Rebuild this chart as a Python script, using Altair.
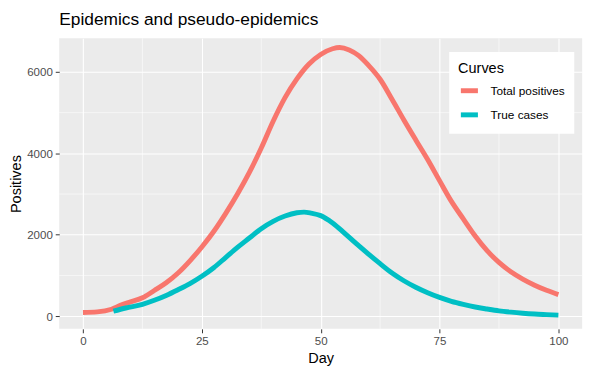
import altair as alt
import pandas as pd

# ---- data ----
total_days = [0, 3, 6, 8, 10, 12.5, 15, 17.5, 20, 22.5, 25, 27.5, 30, 32.5, 35, 37.5, 40, 42.5,
              45, 47.5, 50, 52.5, 54, 56, 58, 60, 62.5, 65, 67.5, 70, 72.5, 75, 77.5,
              80, 82.5, 85, 87.5, 90, 92.5, 95, 97.5, 100]
total_vals = [90, 105, 170, 270, 350, 450, 630, 820, 1060, 1360, 1700, 2080, 2520, 3000, 3530,
              4130, 4790, 5370, 5830, 6190, 6430, 6570, 6600, 6540, 6400, 6170, 5820,
              5330, 4820, 4330, 3850, 3330, 2820, 2390, 1970, 1610, 1320, 1090, 910, 760, 635,
              530]

true_days = [6.4, 9, 12.5, 15, 17.5, 20, 22.5, 25, 27.5, 30, 32.5, 35, 37.5, 40, 42.5, 45, 46.5,
             48, 50, 52.5, 55, 57.5, 60, 62.5, 65, 67.5, 70, 72.5, 75, 77.5, 80, 82.5, 85, 87.5,
             90, 92.5, 95, 97.5, 100]
true_vals = [122, 200, 290, 390, 510, 650, 800, 980, 1190, 1440, 1690, 1920, 2150, 2330, 2460,
             2540, 2555, 2530, 2470, 2290, 2040, 1780, 1530, 1290, 1060, 870, 710, 575, 460, 365,
             290, 225, 175, 130, 98, 72, 52, 38, 25]

series_names = ["Total positives", "True cases"]
series_colors = ["#F8766D", "#00BFC4"]

x_ticks = [0, 25, 50, 75, 100]
x_minor = [12.5, 37.5, 62.5, 87.5]
y_ticks = [0, 2000, 4000, 6000]
y_minor = [1000, 3000, 5000]

df = pd.concat([
    pd.DataFrame({"Day": total_days, "Positives": total_vals, "Curves": series_names[0], "ord": 1}),
    pd.DataFrame({"Day": true_days, "Positives": true_vals, "Curves": series_names[1], "ord": 0}),
])

FONT = "Liberation Sans"

xscale = alt.Scale(domain=[-5, 105], nice=False, zero=False)
yscale = alt.Scale(domain=[-312, 6826], nice=False, zero=False)

vminor = alt.Chart(pd.DataFrame({"v": x_minor})).mark_rule(color="white", strokeWidth=0.55).encode(
    x=alt.X("v:Q", scale=xscale))
hminor = alt.Chart(pd.DataFrame({"v": y_minor})).mark_rule(color="white", strokeWidth=0.55).encode(
    y=alt.Y("v:Q", scale=yscale))

lines = alt.Chart(df).mark_line(strokeWidth=5, strokeCap="butt", interpolate="monotone").encode(
    x=alt.X("Day:Q", scale=xscale,
            axis=alt.Axis(values=x_ticks, title="Day", grid=True, format="d")),
    y=alt.Y("Positives:Q", scale=yscale,
            axis=alt.Axis(values=y_ticks, title="Positives", grid=True, format="d",
                          titleX=-43, titleY=147.5, titleBaseline="middle", titleAlign="center",
                          titleAngle=270)),
    color=alt.Color("Curves:N",
                    scale=alt.Scale(domain=series_names, range=series_colors),
                    legend=alt.Legend(title="Curves", orient="none", legendX=396, legendY=14,
                                      fillColor="white", padding=9, symbolType="stroke",
                                      symbolStrokeWidth=5, symbolSize=300, rowPadding=2.5,
                                      titlePadding=4, labelOffset=10,
                                      titleFontSize=14.7, titleFontWeight="normal",
                                      titleColor="black", labelFontSize=12, labelColor="black",
                                      labelFont=FONT, titleFont=FONT)),
    order=alt.Order("ord:Q"),
    detail="Curves:N",
)

chart = alt.layer(vminor, hminor, lines).properties(
    width=531, height=295,
    title=alt.TitleParams("Epidemics and pseudo-epidemics", anchor="start", frame="group",
                          font=FONT, fontSize=17.6, fontWeight="normal", color="black", offset=9),
    autosize=alt.AutoSizeParams(type="none"),
    padding={"left": 52, "top": 28, "right": 10, "bottom": 40},
).configure_view(fill="#EBEBEB", stroke=None).configure_axis(
    domain=False, gridColor="white", gridWidth=1.1, tickColor="#333333", tickSize=4,
    tickWidth=1, labelColor="#4D4D4D", labelFont=FONT, labelFontSize=11.7, labelPadding=3,
    titleFont=FONT, titleFontSize=14.7, titleFontWeight="normal", titleColor="black",
).configure_axisX(titlePadding=3)

chart.save("out.html", embed_options={"renderer": "svg", "actions": False})
